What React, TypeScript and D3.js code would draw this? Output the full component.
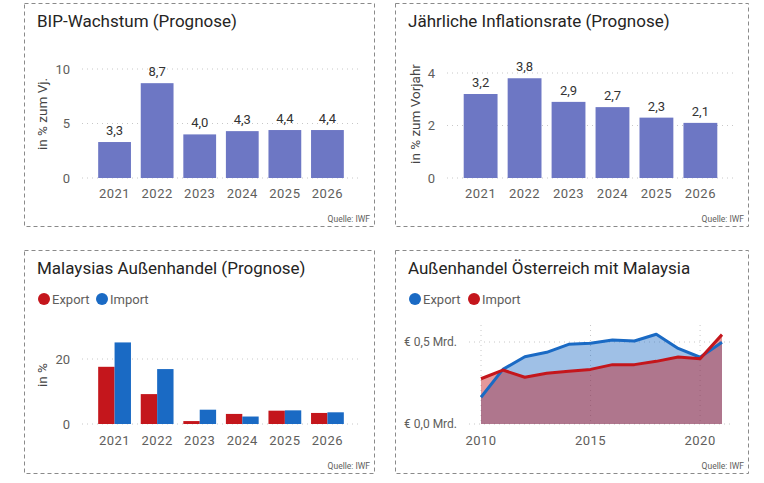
import React from "react";
import * as d3 from "d3";

const years = ["2021", "2022", "2023", "2024", "2025", "2026"];
const gdpGrowth = [3.3, 8.7, 4.0, 4.3, 4.4, 4.4];
const gdpTicks = [0, 5, 10];
const inflation = [3.2, 3.8, 2.9, 2.7, 2.3, 2.1];
const inflationTicks = [0, 2, 4];
const myExportGrowth = [17.6, 9.2, 0.9, 3.1, 4.1, 3.4];
const myImportGrowth = [25.1, 16.9, 4.4, 2.3, 4.2, 3.6];
const tradeTicks = [0, 20];
const tradeYears = [2010, 2011, 2012, 2013, 2014, 2015, 2016, 2017, 2018, 2019, 2020, 2021];
const atExport = [0.163, 0.333, 0.41, 0.437, 0.486, 0.492, 0.512, 0.506, 0.547, 0.461, 0.407, 0.498];
const atImport = [0.276, 0.329, 0.285, 0.309, 0.321, 0.333, 0.362, 0.362, 0.382, 0.408, 0.398, 0.545];
const atYTicks = [0, 0.5];
const atXTicks = [2010, 2015, 2020];

const FONT = "Roboto, 'DejaVu Sans', sans-serif";
const PURPLE = "#6D77C4";
const RED = "#C4161C";
const BLUE = "#1A6AC4";
const TITLE = "#252423";
const GRAY = "#605E5C";
const de = (v: number) => v.toFixed(1).replace(".", ",");

function Frame({ x, y, w, h, title }: { x: number; y: number; w: number; h: number; title: string }) {
  return (
    <g>
      <rect x={x + 0.5} y={y + 0.5} width={w} height={h} fill="none" stroke="#8a8a8a" strokeDasharray="4,3" />
      <text x={x + 13} y={y + 24} fontSize={17} fill={TITLE} fontFamily={FONT}>{title}</text>
      <text x={x + w - 4} y={y + h - 4} fontSize={8.5} fill={GRAY} textAnchor="end" fontFamily={FONT}>Quelle: IWF</text>
    </g>
  );
}

function YAxis({ y, ticks, x0, x1, labelX, fmt }: any) {
  return (
    <g>
      {ticks.map((t: number) => (
        <g key={t}>
          <line x1={x0} x2={x1} y1={y(t)} y2={y(t)} stroke="#c8c8c8" strokeDasharray="1,4" />
          <text x={labelX} y={y(t)} dy="0.35em" textAnchor="end" fontSize={13} fill={GRAY} fontFamily={FONT}>{fmt ? fmt(t) : t}</text>
        </g>
      ))}
    </g>
  );
}

function YLabel({ x, y, text }: { x: number; y: number; text: string }) {
  return (
    <text transform={`translate(${x},${y}) rotate(-90)`} textAnchor="middle" dy="0.35em" fontSize={13.5} fill="#444" fontFamily={FONT}>{text}</text>
  );
}

function BarPanel({ ox, oy, w, title, values, ticks, domainMax, yTop, yLabel, yLabelX, tickX, gx0, gx1 }: any) {
  const y = d3.scaleLinear().domain([0, domainMax]).range([oy + 175, yTop]);
  const x = d3.scaleBand().domain(years).range([gx0, gx1]).paddingInner(0.23).paddingOuter(0.38);
  return (
    <g>
      <Frame x={ox} y={oy} w={w} h={223} title={title} />
      <YAxis y={y} ticks={ticks} x0={gx0} x1={gx1} labelX={tickX} />
      <YLabel x={yLabelX} y={oy + 111} text={yLabel} />
      {values.map((v: number, i: number) => (
        <g key={i}>
          <rect x={x(years[i])} y={y(v)} width={x.bandwidth()} height={y(0) - y(v)} fill={PURPLE} />
          <text x={x(years[i])! + x.bandwidth() / 2} y={y(v) - 7} textAnchor="middle" fontSize={13} fill="#333" fontFamily={FONT}>{de(v)}</text>
          <text x={x(years[i])! + x.bandwidth() / 2} y={oy + 195} textAnchor="middle" fontSize={13} fill={GRAY} fontFamily={FONT} letterSpacing={0.5}>{years[i]}</text>
        </g>
      ))}
    </g>
  );
}

function Legend({ items, y }: { items: { x: number; color: string; label: string }[]; y: number }) {
  return (
    <g>
      {items.map((it) => (
        <g key={it.label}>
          <circle cx={it.x} cy={y} r={6} fill={it.color} />
          <text x={it.x + 8} y={y} dy="0.35em" fontSize={13} fill={GRAY} fontFamily={FONT}>{it.label}</text>
        </g>
      ))}
    </g>
  );
}

function GroupedPanel() {
  const ox = 24, oy = 250;
  const gx0 = 82, gx1 = 360;
  const y = d3.scaleLinear().domain([0, 20]).range([424, 359]);
  const x = d3.scaleBand().domain(years).range([gx0, gx1]).paddingInner(0.23).paddingOuter(0.38);
  const sub = d3.scaleBand().domain(["e", "i"]).range([0, x.bandwidth()]);
  return (
    <g>
      <Frame x={ox} y={oy} w={350} h={223} title="Malaysias Außenhandel (Prognose)" />
      <Legend y={299} items={[{ x: 44, color: RED, label: "Export" }, { x: 102, color: BLUE, label: "Import" }]} />
      <YAxis y={y} ticks={tradeTicks} x0={gx0} x1={gx1} labelX={70} />
      <YLabel x={42} y={375} text="in %" />
      {years.map((yr, i) => (
        <g key={yr}>
          <rect x={x(yr)! + sub("e")!} y={y(myExportGrowth[i])} width={sub.bandwidth()} height={y(0) - y(myExportGrowth[i])} fill={RED} />
          <rect x={x(yr)! + sub("i")!} y={y(myImportGrowth[i])} width={sub.bandwidth()} height={y(0) - y(myImportGrowth[i])} fill={BLUE} />
          <text x={x(yr)! + x.bandwidth() / 2} y={445} textAnchor="middle" fontSize={13} fill={GRAY} fontFamily={FONT} letterSpacing={0.5}>{yr}</text>
        </g>
      ))}
    </g>
  );
}

function AreaPanel() {
  const ox = 395, oy = 250;
  const x = d3.scaleLinear().domain([2010, 2021]).range([481, 722]);
  const y = d3.scaleLinear().domain([0, 0.5]).range([424, 342]);
  const idx = tradeYears.map((_, i) => i);
  const area = (vals: number[]) =>
    d3.area<number>().x((i) => x(tradeYears[i])).y0(y(0)).y1((i) => y(vals[i]))(idx) || "";
  const line = (vals: number[]) =>
    d3.line<number>().x((i) => x(tradeYears[i])).y((i) => y(vals[i]))(idx) || "";
  const fmt = (v: number) => `€ ${v.toFixed(1).replace(".", ",")} Mrd.`;
  return (
    <g>
      <Frame x={ox} y={oy} w={353} h={223} title="Außenhandel Österreich mit Malaysia" />
      <Legend y={299} items={[{ x: 415, color: BLUE, label: "Export" }, { x: 474, color: RED, label: "Import" }]} />
      {atXTicks.map((t) => (
        <g key={t}>
          <line x1={x(t)} x2={x(t)} y1={325} y2={424} stroke="#c8c8c8" strokeDasharray="1,4" />
          <text x={x(t)} y={445} textAnchor="middle" fontSize={13} fill={GRAY} fontFamily={FONT} letterSpacing={0.5}>{t}</text>
        </g>
      ))}
      <g>
        {atYTicks.map((t) => (
          <g key={t}>
            <line x1={469} x2={732} y1={y(t)} y2={y(t)} stroke="#c8c8c8" strokeDasharray="1,4" />
            <text x={457} y={y(t)} dy="0.35em" textAnchor="end" fontSize={12} fill={GRAY} fontFamily={FONT}>{fmt(t)}</text>
          </g>
        ))}
      </g>
      <path d={area(atExport)} fill={BLUE} fillOpacity={0.42} />
      <path d={area(atImport)} fill={RED} fillOpacity={0.44} />
      <path d={line(atExport)} fill="none" stroke={BLUE} strokeWidth={3} strokeLinejoin="round" />
      <path d={line(atImport)} fill="none" stroke={RED} strokeWidth={3} strokeLinejoin="round" />
    </g>
  );
}

export default function App() {
  return (
    <svg width={764} height={483} style={{ position: "absolute", left: 0, top: 0, background: "#fff" }}>
      <BarPanel ox={24} oy={3} w={350} title="BIP-Wachstum (Prognose)" values={gdpGrowth} ticks={gdpTicks}
        domainMax={10} yTop={69} yLabel="in % zum Vj." yLabelX={42} tickX={70} gx0={82} gx1={360} />
      <BarPanel ox={395} oy={3} w={353} title="Jährliche Inflationsrate (Prognose)" values={inflation} ticks={inflationTicks}
        domainMax={4} yTop={73} yLabel="in % zum Vorjahr" yLabelX={415} tickX={435} gx0={447} gx1={734} />
      <GroupedPanel />
      <AreaPanel />
    </svg>
  );
}
